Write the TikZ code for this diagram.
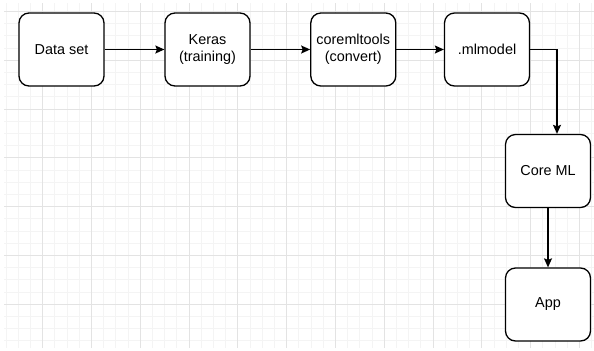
\documentclass[tikz,border=0pt]{standalone}
\usepackage{fontspec}
\setmainfont{Liberation Sans}
\usetikzlibrary{arrows.meta}
\begin{document}
\begin{tikzpicture}[x=1bp,y=-1bp,
  stepbox/.style={draw=black, line width=1.3bp, rounded corners=10bp,
    minimum width=85bp, minimum height=73bp, inner sep=0pt, align=center,
    font=\fontsize{14.4bp}{17.5bp}\selectfont, text=black},
  flow/.style={draw=black, line width=1.3bp,
    -{Stealth[length=9bp,width=8bp,inset=1.5bp]}},
  minorgrid/.style={draw=black!4.5, line width=0.9bp},
  majorgrid/.style={draw=black!11, line width=0.9bp}]
\useasboundingbox (0,0) rectangle (594,350);
\fill[white] (0,0) rectangle (594,350);

% background grid: minor every 12.2, major every 48.8
\begin{scope}
  \clip (4,3) rectangle (594,347);
  \foreach \k in {0,...,48}{
    \pgfmathsetmacro{\gx}{6.1+12.2*\k}
    \draw[minorgrid] (\gx,0) -- (\gx,350);
  }
  \foreach \k in {0,...,29}{
    \pgfmathsetmacro{\gy}{-0.7+12.2*\k}
    \draw[minorgrid] (0,\gy) -- (594,\gy);
  }
  \foreach \k in {0,...,12}{
    \pgfmathsetmacro{\gx}{-6.1+48.8*\k}
    \draw[majorgrid] (\gx,0) -- (\gx,350);
  }
  \foreach \k in {0,...,7}{
    \pgfmathsetmacro{\gy}{11.5+48.8*\k}
    \draw[majorgrid] (0,\gy) -- (594,\gy);
  }
\end{scope}

% pipeline steps
\node[stepbox, fill=white] (data)  at (61.5,49.5)  {Data set};
\node[stepbox, fill=white] (keras) at (207.5,49.5) {Keras\\(training)};
\node[stepbox, fill=white] (conv)  at (353.3,49.5) {coremltools\\(convert)};
\node[stepbox, fill=white] (ml)    at (487,49.5)   {.mlmodel};
\node[stepbox, fill=white] (core)  at (548,171)    {Core ML};
\node[stepbox, fill=white] (app)   at (548,304.5)  {App};

% connectors
\draw[flow] (data) -- (keras);
\draw[flow] (keras) -- (conv);
\draw[flow] (conv) -- (ml);
\draw[flow] (ml.east) -| ([xshift=9bp]core.north);
\draw[flow] (core) -- (app);
\end{tikzpicture}
\end{document}
